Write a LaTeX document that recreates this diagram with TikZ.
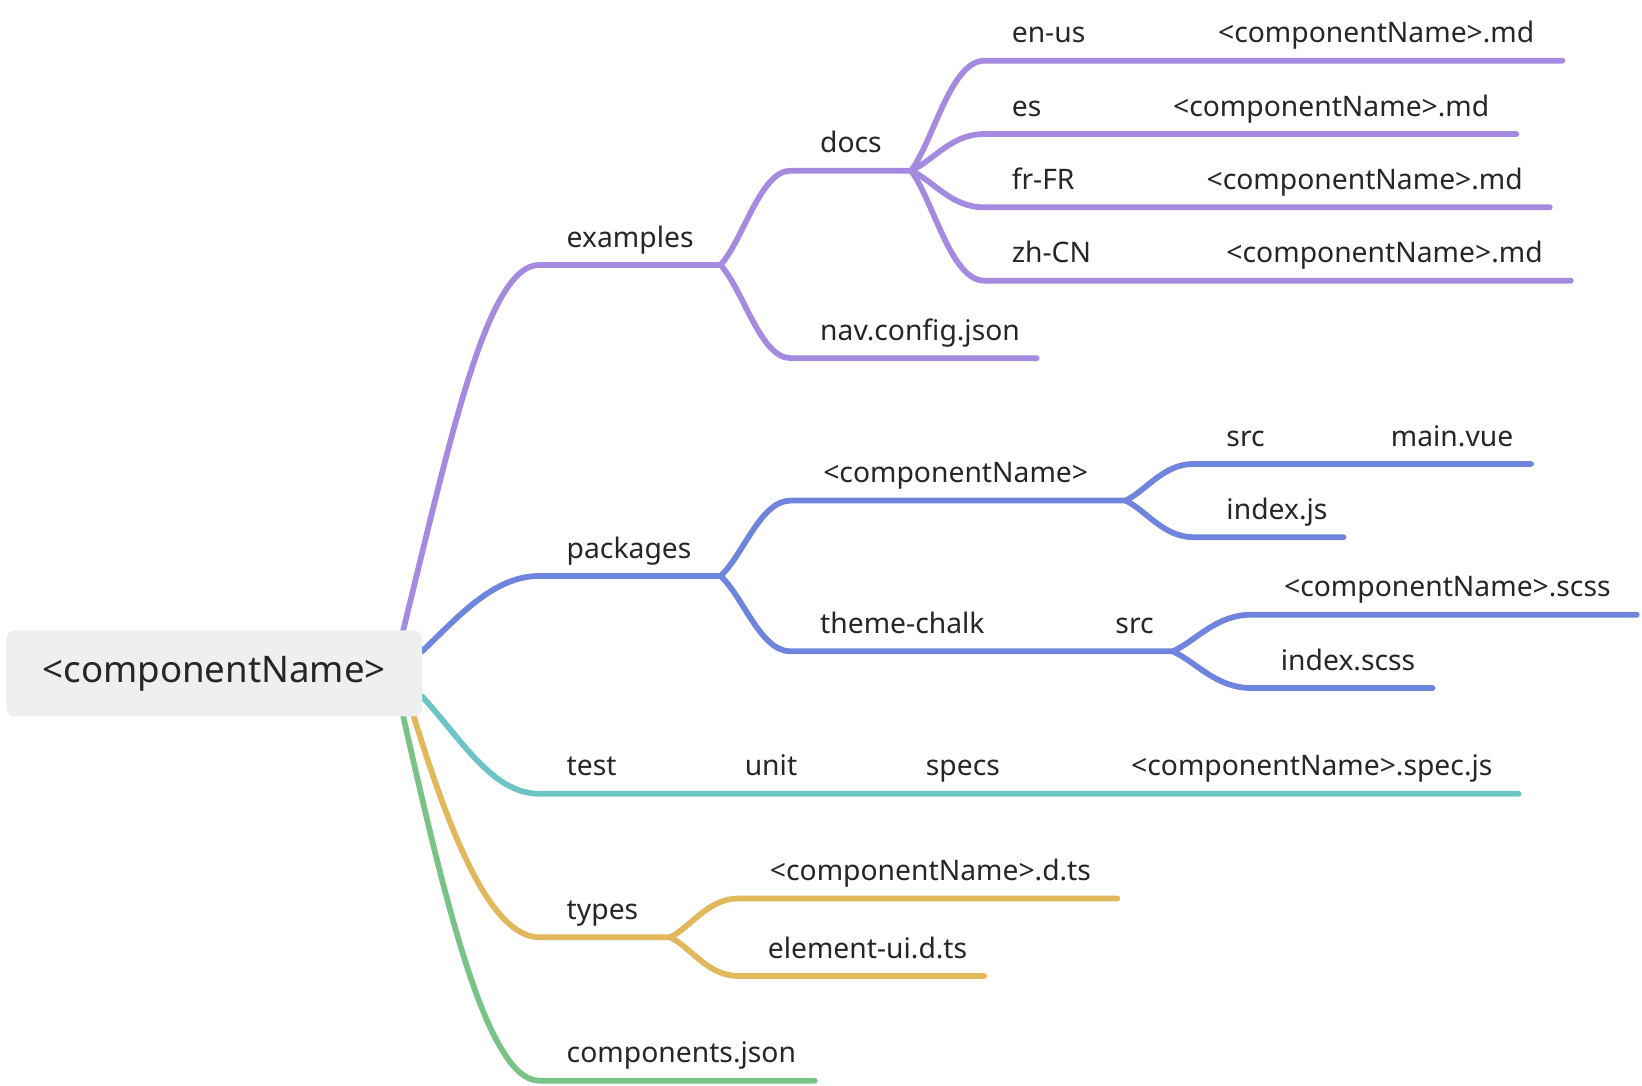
\documentclass[tikz,border=0pt]{standalone}
\usepackage{fontspec}
\setmainfont{Noto Sans}
\definecolor{cpur}{HTML}{A48BE0}
\definecolor{cblu}{HTML}{6E84DD}
\definecolor{ctea}{HTML}{6CC4C4}
\definecolor{cyel}{HTML}{E1B85B}
\definecolor{cgrn}{HTML}{79C386}
\definecolor{croot}{HTML}{EEF0EF}
\definecolor{ctxt}{HTML}{262626}
\begin{document}
\begin{tikzpicture}[x=1pt,y=-1pt,
  lbl/.style={anchor=base west, inner sep=0pt, font=\fontsize{27}{30}\selectfont, text=ctxt},
  br/.style={line width=5.5pt, line cap=round, line join=round},
  rootbox/.style={fill=croot, rounded corners=8pt, minimum width=397pt, minimum height=82pt, inner sep=0pt, font=\fontsize{35}{40}\selectfont, text=ctxt}]
\useasboundingbox (0,0) rectangle (1568,1037);
% ---------- coordinates of underlines ----------
\coordinate (r-pur) at (385,602);
\coordinate (r-blu) at (403,622);
\coordinate (r-tea) at (403,665);
\coordinate (r-yel) at (395,684);
\coordinate (r-grn) at (385,684);
\coordinate (ex-s) at (515,253);  \coordinate (ex-e) at (688,253);
\coordinate (pk-s) at (515,550);  \coordinate (pk-e) at (688,550);
\coordinate (te-s) at (515,758);  \coordinate (te-e) at (605,758);
\coordinate (un-e) at (780,758);  \coordinate (sp-e) at (975,758);
\coordinate (sj-e) at (1450,758);
\coordinate (ty-s) at (515,895);  \coordinate (ty-e) at (640,895);
\coordinate (cj-s) at (515,1032); \coordinate (cj-e) at (778,1032);
\coordinate (do-s) at (755,163);  \coordinate (do-e) at (870,163);
\coordinate (nv-s) at (755,342);  \coordinate (nv-e) at (990,342);
\coordinate (cn-s) at (755,478);  \coordinate (cn-e) at (1075,478);
\coordinate (tc-s) at (755,622);  \coordinate (tc-e) at (960,622);
\coordinate (ts-e) at (1120,622);
\coordinate (dt-s) at (705,858);  \coordinate (dt-e) at (1067,858);
\coordinate (eu-s) at (705,932);  \coordinate (eu-e) at (940,932);
\coordinate (en-s) at (940,58);   \coordinate (en-e) at (1052,58);  \coordinate (m1-e) at (1492,58);
\coordinate (es-s) at (940,128);  \coordinate (es-e) at (1050,128); \coordinate (m2-e) at (1448,128);
\coordinate (fr-s) at (940,198);  \coordinate (fr-e) at (1052,198); \coordinate (m3-e) at (1480,198);
\coordinate (zh-s) at (940,268);  \coordinate (zh-e) at (1052,268); \coordinate (m4-e) at (1500,268);
\coordinate (sr-s) at (1140,443); \coordinate (sr-e) at (1220,443); \coordinate (mv-e) at (1462,443);
\coordinate (ij-s) at (1140,513); \coordinate (ij-e) at (1283,513);
\coordinate (sc-s) at (1195,587); \coordinate (sc-e) at (1563,587);
\coordinate (is-s) at (1195,657); \coordinate (is-e) at (1368,657);
% ---------- purple branch ----------
\begin{scope}[br, draw=cpur]
\draw (r-pur) .. controls +(45,-182) and +(-50,0) .. (ex-s) -- (ex-e);
\draw (ex-e) .. controls +(22,-24) and +(-29,0) .. (do-s) -- (do-e);
\draw (ex-e) .. controls +(22,24) and +(-29,0) .. (nv-s) -- (nv-e);
\draw (do-e) .. controls +(22,-30) and +(-32,0) .. (en-s) -- (en-e) -- (m1-e);
\draw (do-e) .. controls +(22,-10) and +(-32,0) .. (es-s) -- (es-e) -- (m2-e);
\draw (do-e) .. controls +(22,10) and +(-32,0) .. (fr-s) -- (fr-e) -- (m3-e);
\draw (do-e) .. controls +(22,30) and +(-32,0) .. (zh-s) -- (zh-e) -- (m4-e);
\end{scope}
% ---------- blue branch ----------
\begin{scope}[br, draw=cblu]
\draw (r-blu) .. controls +(32,-30) and +(-45,0) .. (pk-s) -- (pk-e);
\draw (pk-e) .. controls +(22,-20) and +(-29,0) .. (cn-s) -- (cn-e);
\draw (pk-e) .. controls +(22,20) and +(-29,0) .. (tc-s) -- (tc-e) -- (ts-e);
\draw (cn-e) .. controls +(20,-10) and +(-29,0) .. (sr-s) -- (sr-e) -- (mv-e);
\draw (cn-e) .. controls +(20,10) and +(-29,0) .. (ij-s) -- (ij-e);
\draw (ts-e) .. controls +(22,-10) and +(-34,0) .. (sc-s) -- (sc-e);
\draw (ts-e) .. controls +(22,10) and +(-34,0) .. (is-s) -- (is-e);
\end{scope}
% ---------- teal branch ----------
\begin{scope}[br, draw=ctea]
\draw (r-tea) .. controls +(37,40) and +(-45,0) .. (te-s) -- (te-e) -- (un-e) -- (sp-e) -- (sj-e);
\end{scope}
% ---------- yellow branch ----------
\begin{scope}[br, draw=cyel]
\draw (r-yel) .. controls +(30,96) and +(-50,0) .. (ty-s) -- (ty-e);
\draw (ty-e) .. controls +(20,-10) and +(-29,0) .. (dt-s) -- (dt-e);
\draw (ty-e) .. controls +(20,10) and +(-29,0) .. (eu-s) -- (eu-e);
\end{scope}
% ---------- green branch ----------
\begin{scope}[br, draw=cgrn]
\draw (r-grn) .. controls +(40,176) and +(-50,0) .. (cj-s) -- (cj-e);
\end{scope}
% ---------- root ----------
\node[rootbox] (root) at (204.5,643) {<componentName>};
% ---------- labels ----------
\node[lbl] (examples) at (541,236) {examples};
\node[lbl] (packages) at (541,533) {packages};
\node[lbl] (test) at (541,741) {test};
\node[lbl] (unit) at (711,741) {unit};
\node[lbl] (specs) at (884,741) {specs};
\node[lbl] (specjs) at (1080,741) {<componentName>.spec.js};
\node[lbl] (types) at (541,878) {types};
\node[lbl] (compjson) at (541,1015) {components.json};
\node[lbl] (docs) at (783,146) {docs};
\node[lbl] (nav) at (783,325) {nav.config.json};
\node[lbl] (cname) at (786,461) {<componentName>};
\node[lbl] (theme) at (783,605) {theme-chalk};
\node[lbl] (tsrc) at (1065,605) {src};
\node[lbl] (dts) at (735,841) {<componentName>.d.ts};
\node[lbl] (eui) at (733,915) {element-ui.d.ts};
\node[lbl] (enus) at (966,41) {en-us};
\node[lbl] (md1) at (1163,41) {<componentName>.md};
\node[lbl] (es) at (966,111) {es};
\node[lbl] (md2) at (1120,111) {<componentName>.md};
\node[lbl] (frfr) at (966,181) {fr-FR};
\node[lbl] (md3) at (1152,181) {<componentName>.md};
\node[lbl] (zhcn) at (966,251) {zh-CN};
\node[lbl] (md4) at (1171,251) {<componentName>.md};
\node[lbl] (csrc) at (1171,426) {src};
\node[lbl] (mainvue) at (1328,426) {main.vue};
\node[lbl] (indexjs) at (1171,496) {index.js};
\node[lbl] (scss) at (1226,570) {<componentName>.scss};
\node[lbl] (iscss) at (1223,640) {index.scss};
\end{tikzpicture}
\end{document}
